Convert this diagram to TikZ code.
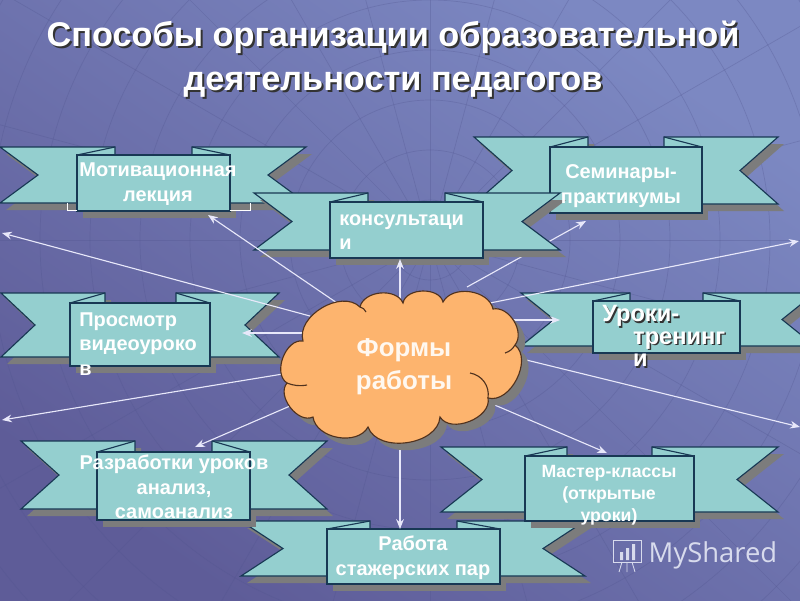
\documentclass[tikz,border=0pt]{standalone}
\usepackage{fontspec}
\setmainfont{Liberation Sans}
\newfontfamily\brandfont{Open Sans}
\usetikzlibrary{arrows.meta}
\definecolor{bgdark}{RGB}{94,92,152}
\definecolor{bglight}{RGB}{124,136,194}
\definecolor{gridline}{RGB}{80,84,142}
\definecolor{ribbonfill}{RGB}{148,207,207}
\definecolor{ribbonline}{RGB}{24,56,84}
\definecolor{ribbonshadow}{RGB}{124,124,124}
\definecolor{cloudfill}{RGB}{253,180,110}
\definecolor{cloudline}{RGB}{80,50,30}
\definecolor{arrowline}{RGB}{232,232,250}
\tikzset{
  ribbonpart/.style={fill=ribbonfill,draw=ribbonline,line width=0.8pt,line join=miter},
  ribbonback/.style={fill=ribbonshadow,shift={(6,7)}},
  arrowpart/.style={draw=arrowline,line width=0.8pt,-{Stealth[length=7pt,width=5.5pt]}},
  boxtext/.style={text=white,font=\bfseries\fontsize{14.2}{17.5}\selectfont,align=center,inner sep=0pt},
  boxleft/.style={boxtext,align=left,anchor=north west},
  grid/.style={draw=gridline,line width=0.5pt,opacity=0.3}
}
% left tip, wing ends, right tip, top, bottom, notch depth, box corners
\newcommand{\ribbon}[9]{
  \fill[ribbonback] (#1,#5) -- (#2,#5) -- (#2,#6) -- (#1,#6) -- ({#1+#7},{(#5+#6)/2}) -- cycle;
  \fill[ribbonback] (#4,#5) -- (#3,#5) -- (#3,#6) -- (#4,#6) -- ({#4-#7},{(#5+#6)/2}) -- cycle;
  \fill[ribbonback] (#8) rectangle (#9);
  \draw[ribbonpart] (#1,#5) -- (#2,#5) -- (#2,#6) -- (#1,#6) -- ({#1+#7},{(#5+#6)/2}) -- cycle;
  \draw[ribbonpart] (#4,#5) -- (#3,#5) -- (#3,#6) -- (#4,#6) -- ({#4-#7},{(#5+#6)/2}) -- cycle;
  \draw[ribbonpart] (#8) rectangle (#9);
  \draw[ribbonpart] (#8) -- (#2,#5);
  \draw[ribbonpart] (#9 |- #8) -- (#3,#5);
}
\newcommand{\cloudoutline}{(303,341) to[bend left=75] (360,307) to[bend left=72] (403,303)
  to[bend left=78] (443,302) to[bend left=70] (493,309) to[bend left=70] (515,345)
  to[bend left=78] (488,398) to[bend left=80] (440,417) to[bend left=78] (368,427)
  to[bend left=72] (313,417) to[bend left=78] (287,383) to[bend left=78] cycle}
\begin{document}
\begin{tikzpicture}[x=0.025cm,y=-0.025cm]
  \useasboundingbox (0,0) rectangle (800,600);
  \clip (0,0) rectangle (800,600);
  \shade[shading=axis,bottom color=bgdark,top color=bglight,shading angle=-35] (0,0) rectangle (800,600);
  % faint globe behind everything
  \foreach \r in {40,90,...,540} \draw[grid] (430,240) circle (\r);
  \foreach \a in {0,15,...,345} \draw[grid] (430,240) -- ++(\a:600);

  \node[font=\bfseries\fontsize{24.4}{31.5}\selectfont,align=center,text=black!80,inner sep=0pt] (titleback) at (395,61) {Способы организации образовательной\\деятельности педагогов};
  \node[font=\bfseries\fontsize{24.4}{31.5}\selectfont,align=center,text=white,inner sep=0pt] (title) at (393,59) {Способы организации образовательной\\деятельности педагогов};

  \ribbon{0}{115}{192}{306}{147}{203}{38}{77,155}{230,211}
  \draw[white!80,line width=0.5pt] (67,203) |- (77,210) (230,210) -| (250,203);
  \ribbon{474}{588}{664}{778}{137}{204}{38}{550,147}{702,213}
  \coordinate (seminarfrom) at (467,287);
  \coordinate (seminarto) at (586,221);
  \draw[arrowpart] (seminarfrom) -- (seminarto);
  \ribbon{254}{368}{445}{560}{193}{250}{38}{330,202}{483,258}
  \ribbon{1}{105}{176}{279}{293}{357}{34}{70,303}{210,366}
  \ribbon{521}{630}{703}{815}{293}{346}{33}{593,301}{740,353}
  \ribbon{241}{370}{457}{585}{521}{576}{42}{327,529}{500,584}
  \ribbon{21}{135}{212}{327}{441}{509}{38}{97,452}{250,520}
  \ribbon{441}{567}{652}{778}{447}{512}{41}{525,456}{694,521}

  \coordinate (a1) at (310,316);  \coordinate (b1) at (2,233);
  \coordinate (a2) at (340,305);  \coordinate (b2) at (208,215);
  \coordinate (a3) at (400,300);  \coordinate (b3) at (400,259);
  \coordinate (a4) at (480,305);  \coordinate (b4) at (799,241);
  \coordinate (a5) at (500,320);  \coordinate (b5) at (560,320);
  \coordinate (a6) at (510,356);  \coordinate (b6) at (800,427);
  \coordinate (a7) at (490,403);  \coordinate (b7) at (607,453);
  \coordinate (a8) at (400,440);  \coordinate (b8) at (400,529);
  \coordinate (a9) at (297,403);  \coordinate (b9) at (195,447);
  \coordinate (a10) at (295,372); \coordinate (b10) at (2,420);
  \coordinate (a11) at (310,333); \coordinate (b11) at (242,333);
  \draw[arrowpart] (a1) -- (b1);
  \draw[arrowpart] (a2) -- (b2);
  \draw[arrowpart] (a3) -- (b3);
  \draw[arrowpart] (a4) -- (b4);
  \draw[arrowpart] (a5) -- (b5);
  \draw[arrowpart] (a6) -- (b6);
  \draw[arrowpart] (a7) -- (b7);
  \draw[arrowpart] (a8) -- (b8);
  \draw[arrowpart] (a9) -- (b9);
  \draw[arrowpart] (a10) -- (b10);
  \draw[arrowpart] (a11) -- (b11);

  % cloud in the middle
  \fill[ribbonshadow,shift={(7,7)}] \cloudoutline;
  \draw[fill=cloudfill,draw=cloudline,line width=0.8pt] \cloudoutline;
  \draw[cloudline,line width=0.8pt] (360,307) to[bend left=25] (366,312);
  \draw[cloudline,line width=0.8pt] (515,345) to[bend left=20] (505,353);
  \draw[cloudline,line width=0.8pt] (470,373) to[bend left=45] (488,398);
  \draw[cloudline,line width=0.8pt] (287,383) to[bend right=15] (307,385);
  \node[text=white!90!cloudfill,font=\bfseries\fontsize{18.4}{23.5}\selectfont,align=center,inner sep=0pt] (forms) at (404,367) {Формы\\работы};

  \node[boxtext] (lecture) at (158,184) {Мотивационная\\лекция};
  \node[boxtext] (seminar) at (621,186) {Семинары-\\практикумы};
  \node[boxleft] (consult) at (339,214) {консультаци\\и};
  \node[boxleft] (video) at (79,312) {Просмотр\\видеоуроко\\в};
  \node[boxtext] (lesson) at (174,487) {Разработки уроков\\анализ,\\самоанализ};
  \node[boxtext,font=\bfseries\fontsize{12.6}{15.5}\selectfont] (master) at (609,495) {Мастер-классы\\(открытые\\уроки)};
  \node[boxtext] (pairs) at (413,558) {Работа\\стажерских пар};
  \node[boxleft,text=black!80,font=\bfseries\fontsize{16.8}{16}\selectfont] (trainback) at (603.5,306.5) {Уроки-\\\hspace*{22pt}тренинг\\\hspace*{22pt}и};
  \node[boxleft,font=\bfseries\fontsize{16.8}{16}\selectfont] (train) at (602,305) {Уроки-\\\hspace*{22pt}тренинг\\\hspace*{22pt}и};

  % watermark
  \node[text=white!70!bglight,font=\brandfont\fontsize{19.5}{24}\selectfont,inner sep=0pt] (brand) at (713,555) {MyShared};
  \draw[white!70!bglight,line width=0.6pt] (613,540) rectangle (641,562);
  \fill[white!70!bglight] (620,552) rectangle (623,560) (626,548) rectangle (629,560) (632,544) rectangle (635,560);
  \draw[white!70!bglight,line width=0.6pt] (622,562) -- (619,572) (632,562) -- (635,572) (627,562) -- (627,572);
\end{tikzpicture}
\end{document}
